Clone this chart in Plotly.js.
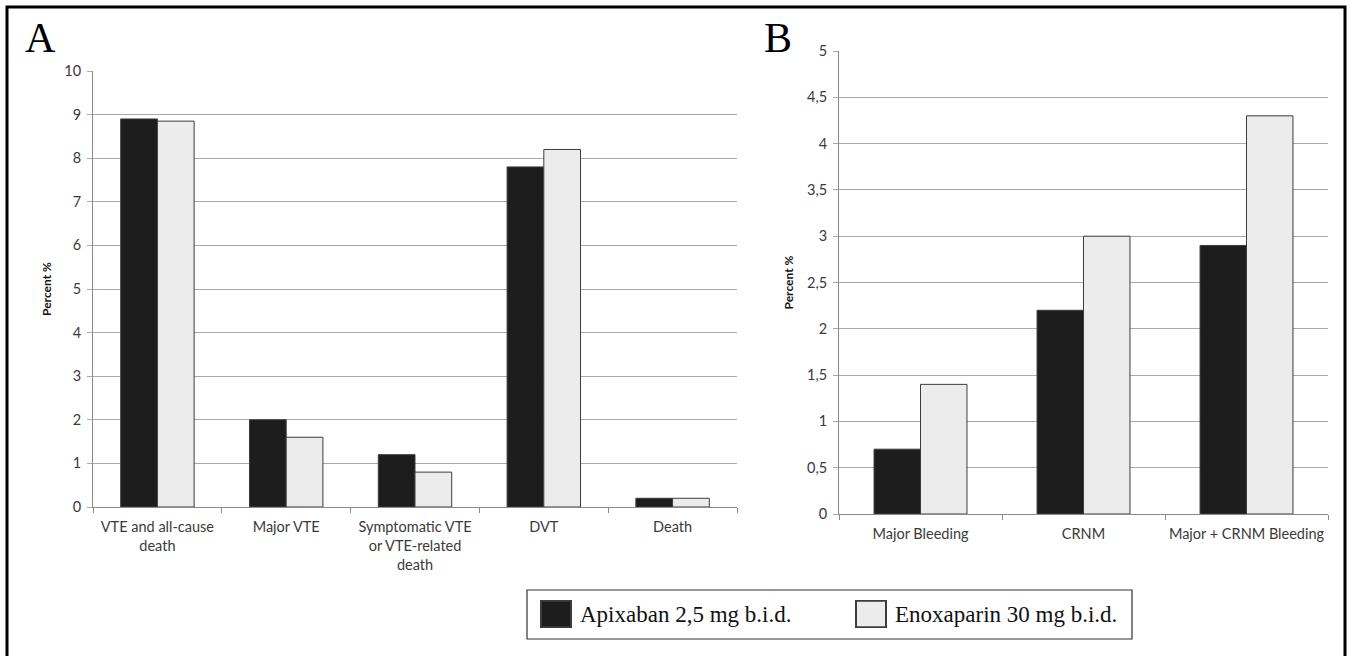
<!DOCTYPE html>
<html>
<head>
<meta charset="utf-8">
<script src="https://cdn.plot.ly/plotly-3.0.1.min.js"></script>
<style>
html,body{margin:0;padding:0;background:#fff;}
#chart{width:1350px;height:656px;}
</style>
</head>
<body>
<div id="chart"></div>
<script>
// ---- Data ----
const seriesNames = ["Apixaban 2,5 mg b.i.d.", "Enoxaparin 30 mg b.i.d."];

const categoriesA = ["VTE and all-cause<br>death", "Major VTE", "Symptomatic VTE<br>or VTE-related<br>death", "DVT", "Death"];
const apixabanA = [8.9, 2.0, 1.2, 7.8, 0.2];
const enoxaparinA = [8.85, 1.6, 0.8, 8.2, 0.2];

const categoriesB = ["Major Bleeding", "CRNM", "Major + CRNM Bleeding"];
const apixabanB = [0.7, 2.2, 2.9];
const enoxaparinB = [1.4, 3.0, 4.3];

const tickValsA = [0,1,2,3,4,5,6,7,8,9,10];
const tickTextA = ["0","1","2","3","4","5","6","7","8","9","10"];
const tickValsB = [0,0.5,1,1.5,2,2.5,3,3.5,4,4.5,5];
const tickTextB = ["0","0,5","1","1,5","2","2,5","3","3,5","4","4,5","5"];

const yTitle = "Percent %";
const panelLabels = ["A", "B"];

// ---- Styles ----
const darkFill = "#1d1d1d";
const lightFill = "#ececec";
const tickFont = {family: "Lato, 'Open Sans', sans-serif", size: 14.5, color: "#3a3a3a"};
const gridColor = "#a9a9a9";
const serif = "'Liberation Serif', 'Times New Roman', serif";

function barTrace(x, y, name, fill, xa, ya, showlegend) {
  return {
    type: "bar", x: x, y: y, name: name, xaxis: xa, yaxis: ya,
    showlegend: showlegend, legendgroup: name,
    marker: {color: fill, line: {color: "#3c3c3c", width: 1}},
    hoverinfo: "x+y"
  };
}

const data = [
  barTrace(categoriesA, apixabanA, seriesNames[0], darkFill, "x", "y", true),
  barTrace(categoriesA, enoxaparinA, seriesNames[1], lightFill, "x", "y", true),
  barTrace(categoriesB, apixabanB, seriesNames[0], darkFill, "x2", "y2", false),
  barTrace(categoriesB, enoxaparinB, seriesNames[1], lightFill, "x2", "y2", false)
];

const W = 1350, H = 656;
function px(x){return x / W;}
function py(y){return (H - y) / H;}

function xAxis(domain){
  return {
    domain: domain, type: "category", tickson: "boundaries", tickangle: 0,
    ticks: "outside", ticklen: 5, tickcolor: "#8a8a8a",
    showline: true, linecolor: "#8a8a8a", linewidth: 1,
    showgrid: false, tickfont: tickFont, ticklabelstandoff: 7,
    fixedrange: true, automargin: false
  };
}
function yAxis(domain, range, tv, tt, anchor){
  return {
    domain: domain, range: range, tickvals: tv, ticktext: tt, anchor: anchor,
    ticks: "outside", ticklen: 5, tickcolor: gridColor,
    showline: true, linecolor: "#8a8a8a", linewidth: 1,
    showgrid: true, gridcolor: gridColor, gridwidth: 1,
    zeroline: false, tickfont: tickFont, ticklabelstandoff: 3,
    fixedrange: true, automargin: false,
    title: {text: "<b>" + yTitle + "</b>", font: {family: "Lato, 'Open Sans', sans-serif", size: 12, color: "#111"}, standoff: 10}
  };
}

const layout = {
  width: W, height: H,
  margin: {l: 0, r: 0, t: 0, b: 0},
  paper_bgcolor: "#fff", plot_bgcolor: "#fff",
  barmode: "group", bargap: 0.43, bargroupgap: 0,
  separators: ", ",
  xaxis: Object.assign(xAxis([px(93), px(737)]), {anchor: "y"}),
  yaxis: yAxis([py(507), py(71)], [0, 10], tickValsA, tickTextA, "x"),
  xaxis2: Object.assign(xAxis([px(839), px(1328)]), {anchor: "y2"}),
  yaxis2: yAxis([py(514), py(51)], [0, 5], tickValsB, tickTextB, "x2"),
  showlegend: true,
  legend: {
    orientation: "h", x: px(527), y: py(590), xanchor: "left", yanchor: "top",
    borderwidth: 0, bgcolor: "rgba(0,0,0,0)",
    font: {family: serif, size: 23, color: "#111"},
    entrywidth: 262, entrywidthmode: "pixels", itemclick: false, itemdoubleclick: false
  },
  shapes: [
    {type: "rect", xref: "paper", yref: "paper", x0: px(7), x1: px(1345), y0: -0.02, y1: py(7),
     line: {color: "#000", width: 3}, fillcolor: "rgba(0,0,0,0)", layer: "below"},
    {type: "rect", xref: "paper", yref: "paper", x0: px(527), x1: px(1132), y0: py(639), y1: py(590),
     line: {color: "#333", width: 1.2}, fillcolor: "#fff", layer: "below"}
  ],
  annotations: [
    {text: panelLabels[0], xref: "paper", yref: "paper", x: px(40), y: py(38), xanchor: "center", yanchor: "middle",
     showarrow: false, font: {family: serif, size: 42, color: "#000"}},
    {text: panelLabels[1], xref: "paper", yref: "paper", x: px(778), y: py(38), xanchor: "center", yanchor: "middle",
     showarrow: false, font: {family: serif, size: 42, color: "#000"}}
  ]
};

// legend entry placement (page pixels): swatch centres and text left edges
const legendSwatchX = [556, 871];
const legendTextX = [580, 895];
const legendMidY = 614;

Plotly.newPlot("chart", data, layout, {staticPlot: true, displayModeBar: false}).then(function(gd){
  function placeLegend(){
    const leg = document.querySelector("#chart .legend");
    if (!leg) return;
    const sb = leg.querySelector(".scrollbox");
    if (sb) sb.removeAttribute("clip-path");
    leg.querySelectorAll(".traces").forEach(function(it, i){
      const p = it.querySelector(".legendpoints path");
      if (p) {
        p.setAttribute("transform", "scale(2.5,2.2)");
        p.style.strokeWidth = "0.8px";
        const r = p.getBoundingClientRect();
        const dx = legendSwatchX[i] - (r.left + r.right) / 2;
        const dy = legendMidY - (r.top + r.bottom) / 2;
        p.setAttribute("transform", "translate(" + dx + "," + dy + ") scale(2.5,2.2)");
      }
      const t = it.querySelector(".legendtext");
      if (t) {
        const r = t.getBoundingClientRect();
        const dx = legendTextX[i] - r.left;
        const dy = legendMidY - (r.top + r.bottom) / 2;
        t.setAttribute("x", parseFloat(t.getAttribute("x") || 0) + dx);
        t.setAttribute("y", parseFloat(t.getAttribute("y") || 0) + dy);
      }
    });
  }
  placeLegend();
});
</script>
</body>
</html>
